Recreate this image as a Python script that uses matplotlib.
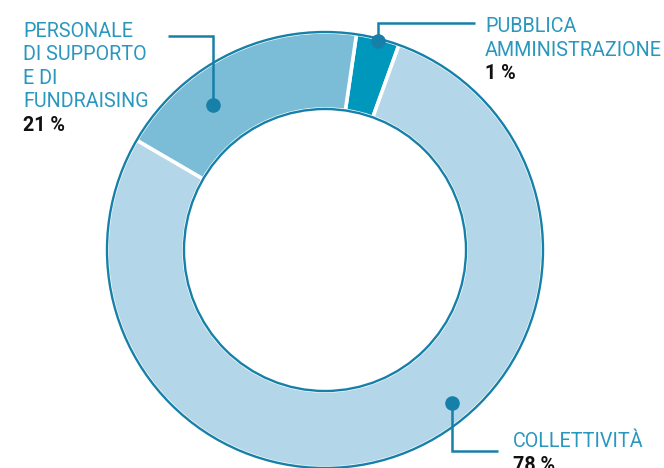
import numpy as np
import matplotlib
matplotlib.use("Agg")
import matplotlib.pyplot as plt

# ---- data ----
categories = ["PUBBLICA\nAMMINISTRAZIONE", "COLLETTIVITÀ", "PERSONALE\nDI SUPPORTO\nE DI\nFUNDRAISING"]
pct_labels = ["1 %", "78 %", "21 %"]
shares = [3.2, 77.9, 18.9]          # drawn wedge sizes as they appear
colors = ["#0097bd", "#b3d6e8", "#7bbcd6"]

# ---- layout (pixels, y up) ----
W, H = 664, 468
CX, CY = 325, 468 - 250
R_OUT, R_IN = 218, 141
START = 90 - 8.3
OUTLINE = "#1680a8"
TEXT_C = "#2a97bf"
FONT = "Roboto"

fig = plt.figure(figsize=(W / 100, H / 100), dpi=100)
ax = fig.add_axes([0, 0, 1, 1])
wedges, _ = ax.pie(shares, colors=colors, startangle=START, counterclock=False,
                   center=(CX, CY), radius=R_OUT,
                   wedgeprops=dict(width=R_OUT - R_IN, edgecolor="white", linewidth=2.6))
for r in (R_OUT, R_IN):
    ax.add_patch(plt.Circle((CX, CY), r, fill=False, ec=OUTLINE, lw=1.7, zorder=5))

# leader specs: dot (angle cw from top, radius), elbow y, end x, text x, first baseline
leaders = [
    dict(ang=14.2, rad=216, ey=23, ex=475, tx=485, ty=32.3, ha="left"),
    dict(ang=180 - np.degrees(np.arctan2(127, 153)) , rad=199, ey=451, ex=498, tx=513, ty=447.3, ha="left"),
    dict(ang=-37.7, rad=183, ey=36, ex=168, tx=23, ty=36.7, ha="left"),
]
LINE_H = 23.5
for cat, pct, L in zip(categories, pct_labels, leaders):
    a = np.radians(L["ang"])
    dx = CX + L["rad"] * np.sin(a)
    dy = CY + L["rad"] * np.cos(a)
    ey = H - L["ey"]
    ax.plot([dx, dx, L["ex"]], [dy, ey, ey], color=OUTLINE, lw=1.8, zorder=6,
            solid_joinstyle="miter", solid_capstyle="butt")
    ax.plot([dx], [dy], "o", ms=10.5, color=OUTLINE, mec="none", zorder=7)
    lines = cat.split("\n")
    for i, ln in enumerate(lines):
        ax.text(L["tx"], H - (L["ty"] + i * LINE_H), ln, color=TEXT_C, fontsize=14.2,
                family=FONT, ha="left", va="baseline")
    ax.text(L["tx"], H - (L["ty"] + len(lines) * LINE_H), pct, color="#111111",
            fontsize=14.2, family=FONT, fontweight="bold", ha="left", va="baseline")

ax.set_xlim(0, W)
ax.set_ylim(0, H)
ax.set_aspect("equal")
ax.axis("off")
fig.savefig("out.png", dpi=100)
